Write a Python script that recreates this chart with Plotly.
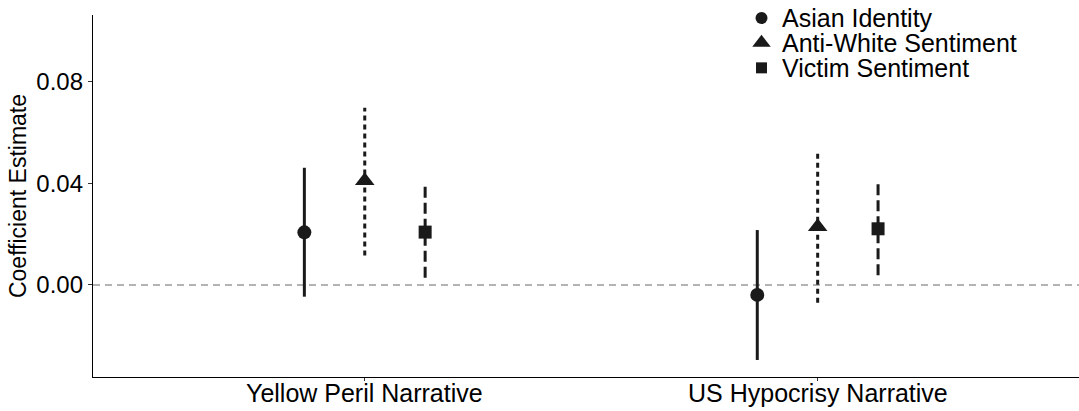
import plotly.graph_objects as go

# Narratives (x categories) and outcome series
narratives = ["Yellow Peril Narrative", "US Hypocrisy Narrative"]
series = ["Asian Identity", "Anti-White Sentiment", "Victim Sentiment"]

# Point estimates and 95% confidence bounds, one list per outcome (ordered by narrative)
asian_est = [0.0207, -0.0039]
asian_lo = [-0.0046, -0.0295]
asian_hi = [0.0461, 0.0216]

antiwhite_est = [0.0410, 0.0229]
antiwhite_lo = [0.0116, -0.0070]
antiwhite_hi = [0.0697, 0.0520]

victim_est = [0.0208, 0.0221]
victim_lo = [0.0028, 0.0038]
victim_hi = [0.0390, 0.0401]

y_ticks = [0.00, 0.04, 0.08]

data = [
    (series[0], asian_est, asian_lo, asian_hi, "circle", 14, 12, "solid"),
    (series[1], antiwhite_est, antiwhite_lo, antiwhite_hi, "triangle-up", 17, 16, "5px,4px"),
    (series[2], victim_est, victim_lo, victim_hi, "square", 13, 11, "11px,5px"),
]

INK = "#1a1a1a"
dodge = 0.4
n = len(data)
fig = go.Figure()

fig.add_hline(y=0, line=dict(color="#9a9a9a", width=1.4, dash="7px,5px"), layer="below")

for i, (name, est, lo, hi, sym, size, _, dash) in enumerate(data):
    off = (i - (n - 1) / 2) * dodge / n
    xs = [k + off for k in range(len(narratives))]
    lx, ly = [], []
    for x, a, b in zip(xs, lo, hi):
        lx += [x, x, None]
        ly += [a, b, None]
    fig.add_trace(go.Scatter(
        x=lx, y=ly, mode="lines", showlegend=False, hoverinfo="skip",
        line=dict(color=INK, width=3, dash=dash),
    ))
    fig.add_trace(go.Scatter(
        x=xs, y=est, mode="markers", name=name, showlegend=False,
        marker=dict(symbol=sym, size=size, color=INK),
    ))

# Category labels set close under the axis line
for k, label in enumerate(narratives):
    fig.add_annotation(
        x=k, y=0, xref="x", yref="paper", yanchor="top", yshift=-1,
        text=label, showarrow=False, borderpad=0,
        font=dict(size=25, color="black"),
    )

# Compact key in the top-right corner: glyphs on an overlay axis, labels as annotations
key_x, key_top, key_step = 0.678, 0.992, 0.069
key_y = [key_top - j * key_step for j in range(n)]
for j, (name, _, _, _, sym, _, ksize, _) in enumerate(data):
    fig.add_trace(go.Scatter(
        x=[key_x], y=[key_y[j]], xaxis="x2", yaxis="y2", mode="markers",
        showlegend=False, hoverinfo="skip", cliponaxis=False,
        marker=dict(symbol=sym, size=ksize, color=INK),
    ))
    fig.add_annotation(
        x=key_x + 0.0195, y=key_y[j], xref="paper", yref="paper",
        text=name, showarrow=False, xanchor="left", yanchor="middle",
        font=dict(size=25, color="black"), borderpad=0,
    )

fig.update_layout(
    width=1079, height=411,
    margin=dict(l=93, r=0, t=15, b=34),
    paper_bgcolor="white", plot_bgcolor="white",
    font=dict(family="Liberation Sans, Arial, sans-serif", color="black", size=20),
    showlegend=False,
    xaxis=dict(
        range=[-0.6, 1.577], automargin=False,
        tickvals=list(range(len(narratives))), showticklabels=False,
        showgrid=False, zeroline=False,
        showline=True, linecolor="black", linewidth=1.3,
        ticks="outside", ticklen=3, tickcolor="#333333",
    ),
    yaxis=dict(
        range=[-0.0362, 0.1062], automargin=False,
        tickvals=y_ticks, ticktext=[f"{v:.2f}" for v in y_ticks],
        showgrid=False, zeroline=False,
        showline=True, linecolor="black", linewidth=1.3,
        ticks="outside", ticklen=4, tickcolor="#333333",
        tickfont=dict(size=24),
        title=dict(text="Coefficient Estimate", font=dict(size=23), standoff=3),
    ),
    xaxis2=dict(overlaying="x", range=[0, 1], visible=False, fixedrange=True),
    yaxis2=dict(overlaying="y", range=[0, 1], visible=False, fixedrange=True),
)

fig.write_html("out.html")
